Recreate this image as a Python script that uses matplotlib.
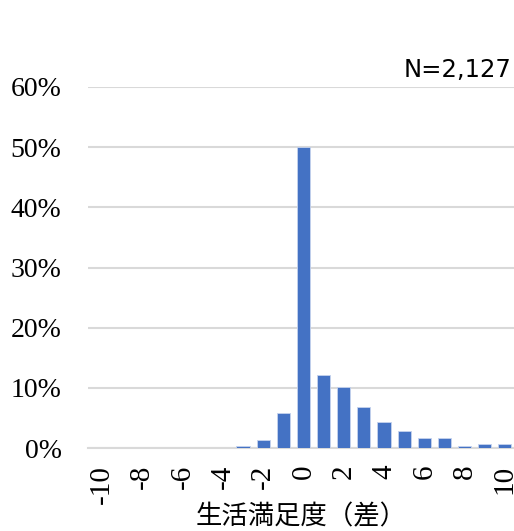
import matplotlib.pyplot as plt
import numpy as np

plt.rcParams['font.family'] = ['Liberation Serif', 'Noto Sans CJK JP']

# distribution of life satisfaction difference
diff = list(range(-10, 11))
share = [0, 0, 0, 0, 0, 0, 0, 0.3, 1.3, 5.9, 50.0,
         12.1, 10.1, 6.8, 4.3, 2.9, 1.7, 1.6, 0.4, 0.6, 0.7]
tick_vals = list(range(-10, 11, 2))

fig = plt.figure(figsize=(5.14, 5.31), dpi=100)
ax = fig.add_axes([88/514, 83/531, 426/514, 361/531])

ax.bar(diff, share, width=0.65, color='#4472C4', edgecolor='#c5d3ee', linewidth=0.6, zorder=3)

ax.set_xlim(-10.69, 10.45)
ax.set_ylim(0, 60)
ax.set_yticks(range(0, 61, 10))
ax.set_yticklabels([f'{v}%' for v in range(0, 61, 10)], fontsize=20)
ax.set_xticks(tick_vals)
ax.set_xticklabels([str(v) for v in tick_vals], rotation=90, fontsize=21)
ax.grid(axis='y', color='#d9d9d9', linewidth=1.5, zorder=0)
ax.tick_params(axis='x', length=0, pad=12)
ax.tick_params(axis='y', length=0, pad=19)
for s in ['top', 'right', 'left']:
    ax.spines[s].set_visible(False)
ax.spines['bottom'].set_color('#d9d9d9')
ax.spines['bottom'].set_linewidth(1.5)

ax.set_xlabel('生活満足度（差）', fontsize=19, family=['Noto Sans CJK JP'], labelpad=0)
fig.text(512/514, 1 - 70/531, 'N=2,127', ha='right', va='center', fontsize=17.5,
         family=['DejaVu Sans'])

plt.savefig('out.png', dpi=100)
